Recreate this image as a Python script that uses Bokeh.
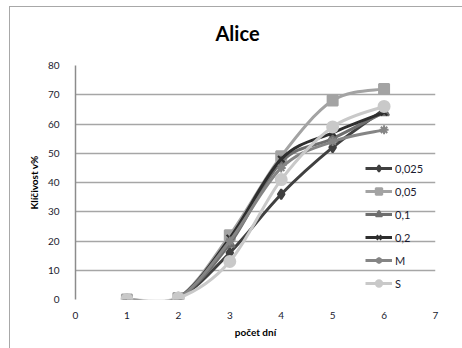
from bokeh.plotting import figure
from bokeh.models import Legend, LegendItem, Range1d, Title
from bokeh.embed import file_html
from bokeh.resources import INLINE

days = [1, 2, 3, 4, 5, 6]
series_names = ["0,025", "0,05", "0,1", "0,2", "M", "S"]
s_0025 = [0, 0.5, 16, 36, 52, 65]
s_005 = [0, 0.5, 22, 49, 68, 72]
s_01 = [0, 0.5, 19, 47, 55, 64]
s_02 = [0, 0.5, 21, 48, 57, 64]
s_M = [0, 0.5, 20, 45, 54, 58]
s_S = [0, 0.5, 13, 41, 59, 66]
x_ticks = [0, 1, 2, 3, 4, 5, 6, 7]
y_ticks = [0, 10, 20, 30, 40, 50, 60, 70, 80]

values = [s_0025, s_005, s_01, s_02, s_M, s_S]
colors = ["#404040", "#a3a3a3", "#6e6e6e", "#2e2e2e", "#858585", "#c9c9c9"]
markers = ["diamond", "square", "triangle", "x", "asterisk", "circle"]
msizes = [10, 10, 10, 9, 9, 11]

FONT = "Lato"

p = figure(width=453, height=342, output_backend="svg", toolbar_location=None,
           x_range=Range1d(0, 7), y_range=Range1d(0, 80),
           min_border_left=65, min_border_right=28, min_border_top=58, min_border_bottom=50)
p.styles = {"margin-left": "9px", "margin-top": "6px", "border-left": "1px solid #a8a8a8", "border-top": "1px solid #a8a8a8"}
p.outline_line_color = None
p.background_fill_color = "white"

spacer = Title(text=" ", text_font=FONT, text_font_size="3px")
p.add_layout(spacer, "above")
main_title = Title(text="Alice", align="left", offset=140, text_font=FONT,
                   text_font_size="20px", text_font_style="bold", text_color="black")
p.add_layout(main_title, "above")

p.xaxis.ticker = x_ticks
p.yaxis.ticker = y_ticks
for ax in (p.xaxis[0], p.yaxis[0]):
    ax.major_tick_line_color = None
    ax.minor_tick_line_color = None
    ax.major_label_text_font = FONT
    ax.major_label_text_font_size = "10px"
    ax.major_label_text_color = "#1a1a2e"
    ax.axis_label_text_font = FONT
    ax.axis_label_text_font_size = "10px"
    ax.axis_label_text_font_style = "bold"
    ax.axis_label_text_color = "black"
p.xaxis.axis_line_color = None
p.yaxis.axis_line_color = "#8c8c8c"
p.yaxis.axis_line_width = 1.5
p.xaxis.axis_label = "počet dní"
p.yaxis.axis_label = "Klíčivost v%"
p.xaxis.major_label_standoff = 6
p.xaxis.axis_label_standoff = 4
p.yaxis.major_label_standoff = 10
p.xgrid.grid_line_color = None
p.ygrid.grid_line_color = "#a6a6a6"
p.ygrid.grid_line_width = 1.5

items = []
for name, vals, col, mk, ms in zip(series_names, values, colors, markers, msizes):
    n = len(days)
    x0, y0, x1, y1, cx0, cy0, cx1, cy1 = [], [], [], [], [], [], [], []
    for i in range(n - 1):
        im1 = max(i - 1, 0)
        ip2 = min(i + 2, n - 1)
        x0.append(days[i]); y0.append(vals[i])
        x1.append(days[i + 1]); y1.append(vals[i + 1])
        cx0.append(days[i] + (days[i + 1] - days[im1]) / 6)
        cy0.append(vals[i] + (vals[i + 1] - vals[im1]) / 6)
        cx1.append(days[i + 1] - (days[ip2] - days[i]) / 6)
        cy1.append(vals[i + 1] - (vals[ip2] - vals[i]) / 6)
    b = p.bezier(x0=x0, y0=y0, x1=x1, y1=y1, cx0=cx0, cy0=cy0, cx1=cx1, cy1=cy1,
                 line_color=col, line_width=3)
    s = p.scatter(days, vals, marker=mk, size=ms, fill_color=col, line_color=col, line_width=2)
    items.append(LegendItem(label=name, renderers=[b, s]))

legend = Legend(items=items, location=(290, 8), background_fill_alpha=0,
                border_line_color=None, padding=0, margin=0, spacing=7,
                glyph_width=27, glyph_height=16, label_standoff=3,
                label_text_font=FONT, label_text_font_size="11px", label_text_color="#1a1a2e")
p.add_layout(legend)

open("out.html", "w").write(file_html(p, INLINE))
